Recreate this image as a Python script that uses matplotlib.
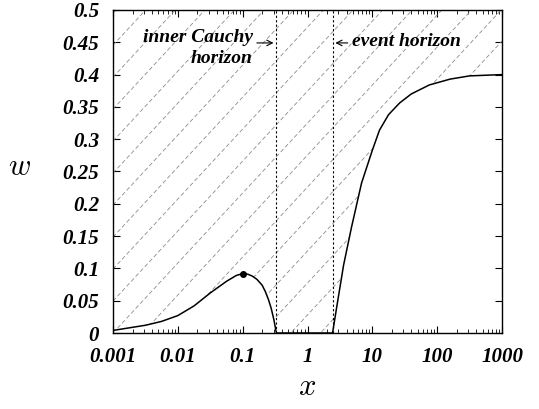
import matplotlib
matplotlib.use("Agg")
import matplotlib.pyplot as plt
import numpy as np

# log10(x) and w
log_x = [-3.0, -2.75, -2.5, -2.25, -2.0, -1.75, -1.5, -1.25, -1.1, -1.0, -0.92,
         -0.85, -0.78, -0.7, -0.65, -0.6, -0.56, -0.52, -0.48, 0.0, 0.386,
         0.45, 0.556, 0.679, 0.833, 1.0, 1.11, 1.25, 1.42, 1.6, 1.88, 2.2,
         2.5, 3.0]
w_vals = [0.004, 0.008, 0.012, 0.018, 0.027, 0.042, 0.062, 0.080, 0.089, 0.092, 0.091,
          0.088, 0.083, 0.074, 0.064, 0.051, 0.038, 0.021, 0.0, 0.0, 0.0,
          0.04, 0.105, 0.164, 0.232, 0.283, 0.314, 0.338, 0.356, 0.370, 0.384, 0.393,
          0.398, 0.400]

peak_x = 0.1
peak_w = 0.092
inner_horizon = 0.33
event_horizon = 2.43

x_ticks = [0.001, 0.01, 0.1, 1, 10, 100, 1000]
x_labels = ['0.001', '0.01', '0.1', '1', '10', '100', '1000']
y_ticks = [0, 0.05, 0.1, 0.15, 0.2, 0.25, 0.3, 0.35, 0.4, 0.45, 0.5]
y_labels = ['0', '0.05', '0.1', '0.15', '0.2', '0.25', '0.3', '0.35', '0.4', '0.45', '0.5']

plt.rcParams['mathtext.fontset'] = 'cm'
tick_font = dict(family='Liberation Serif', style='italic', weight='bold', size=15)
note_font = dict(family='Liberation Serif', style='italic', weight='bold', size=14)

fig = plt.figure(figsize=(5.39, 4.09), dpi=100)
ax = fig.add_axes([0.2097, 0.1858, 0.7217, 0.7898])

x = 10.0 ** np.array(log_x)
w = np.array(w_vals)

ax.set_xscale('log')
ax.set_xlim(0.001, 1000)
ax.set_ylim(0, 0.5)

# hatched region above the curve
region = ax.fill_between(x, w, 0.5, facecolor='none', edgecolor='none')
clip_path = region.get_paths()[0]
slope = 1.3
spacing = 0.099
for k in range(-14, 12):
    xs = np.array([0.0, 1.0])
    ln, = ax.plot(xs, slope * xs + k * spacing, transform=ax.transAxes,
                  color='0.55', lw=0.6, linestyle=(0, (5, 3)))
    ln.set_clip_path(clip_path, region.get_transform())

ax.plot(x, w, color='black', lw=1.1)
ax.plot([peak_x], [peak_w], 'o', color='black', ms=4)

for xh in (inner_horizon, event_horizon):
    ax.axvline(xh, color='black', lw=0.8, linestyle=(0, (2, 2)))

ax.annotate('', xy=(inner_horizon, 0.449), xytext=(0.15, 0.449),
            arrowprops=dict(arrowstyle='->', lw=0.8, color='black'))
ax.annotate('', xy=(event_horizon, 0.449), xytext=(4.6, 0.449),
            arrowprops=dict(arrowstyle='->', lw=0.8, color='black'))
ax.text(0.145, 0.458, 'inner Cauchy', ha='right', va='center', **note_font)
ax.text(0.14, 0.425, 'horizon', ha='right', va='center', **note_font)
ax.text(4.8, 0.451, 'event horizon', ha='left', va='center', **note_font)

ax.set_xticks(x_ticks)
ax.set_xticklabels(x_labels, fontdict=tick_font)
ax.set_yticks(y_ticks)
ax.set_yticklabels(y_labels, fontdict=tick_font)
ax.tick_params(which='both', direction='in', top=True, right=True)
ax.tick_params(which='major', length=5, width=0.8)
ax.tick_params(which='minor', length=3, width=0.6)
ax.tick_params(axis='x', pad=10)
ax.tick_params(axis='y', pad=10)
for s in ax.spines.values():
    s.set_linewidth(1.0)

ax.set_xlabel(r'$x$', fontsize=22, labelpad=4)
ax.set_ylabel(r'$w$', fontsize=22, rotation=0)
ax.yaxis.set_label_coords(-0.24, 0.47)

fig.savefig('out.png', dpi=100)
